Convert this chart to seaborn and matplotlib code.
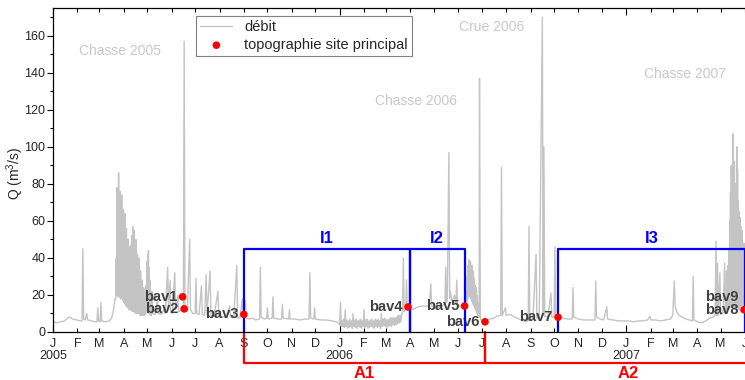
"""
Hydrogramme 2005-2007 avec dates des levés topographiques (bav1..bav9)
"""
import numpy as np
import pandas as pd
import matplotlib.pyplot as plt
import matplotlib.dates as mdates
import matplotlib.transforms as mtransforms
from matplotlib.ticker import MultipleLocator, FuncFormatter
import seaborn as sns

# débit (jour MM-JJ, Q en m3/s)
jours_2005 = ["01-01", "01-06", "01-11", "01-16", "01-19", "01-22", "01-26", "01-31", "02-05", "02-07",
              "02-08", "02-09", "02-11", "02-13", "02-14", "02-19", "02-24", "02-26", "02-27", "02-28",
              "03-02", "03-03", "03-04", "03-09", "03-14", "03-17", "03-19", "03-21",
              "05-07", "05-08", "05-11", "05-14", "05-15", "05-19", "05-22", "05-24", "05-27", "05-28",
              "05-30", "05-31", "06-02", "06-05", "06-06", "06-09", "06-10", "06-13", "06-16", "06-17",
              "06-18", "06-21", "06-24", "06-25", "06-28", "07-01", "07-02", "07-03", "07-06", "07-09",
              "07-10", "07-13", "07-15", "07-16", "07-20", "07-21", "07-25", "07-30", "07-31", "08-04",
              "08-10", "08-14", "08-15", "08-19", "08-23", "08-24", "08-27", "08-30", "08-31", "09-03",
              "09-04", "09-08", "09-12", "09-16", "09-21", "09-22", "09-23", "09-27", "09-30", "10-01",
              "10-02", "10-07", "10-08", "10-09", "10-14", "10-19", "10-20", "10-21", "10-28", "10-29",
              "10-30", "11-05", "11-12", "11-18", "11-23", "11-24", "11-25", "11-29", "11-30", "12-01",
              "12-08", "12-15", "12-22", "12-28"]
q_2005 = [5.5, 5.0, 5.5, 6.0, 7.5, 8.0, 7.0, 6.5, 6.0, 6.0,
          45, 7.0, 6.5, 10, 6.5, 6.0, 5.5, 5.5, 13, 6.0,
          5.5, 16, 6.0, 5.5, 6.0, 8.0, 12, 18,
          22, 10, 9.5, 18, 10, 9.5, 12, 10, 35, 12,
          28, 11, 10, 32, 12, 20, 11, 12, 11, 157,
          12, 11, 50, 12, 10, 10, 29, 10, 9.5, 25,
          9.5, 9, 31, 9.5, 33, 9, 8.5, 22, 8.5, 8,
          8.5, 14, 8, 7.5, 36, 8, 7.5, 18, 7.5, 17,
          7.5, 7, 7.5, 6.5, 7, 35, 8, 7, 7.5, 13,
          7, 7.5, 19, 7.5, 7, 7, 15, 7.5, 7, 12,
          7, 7, 6.5, 7, 7, 32, 7.5, 7, 13, 7,
          6.5, 6.5, 6, 5.5]

jours_2006 = ["03-22", "03-23", "03-24", "03-26", "03-27", "03-28", "03-29", "04-02", "04-06", "04-10",
              "04-15", "04-20", "04-25", "04-27", "04-28", "05-02", "05-07", "05-12", "05-15", "05-16",
              "05-17", "05-18", "05-20", "05-21", "05-22", "05-24", "05-27", "05-29", "05-30", "05-31",
              "06-03", "06-06", "06-09",
              "06-28", "06-29", "07-02", "07-05", "07-08", "07-11", "07-16", "07-20", "07-25", "07-26",
              "07-27", "07-31", "08-01", "08-06", "08-10", "08-15", "08-20", "08-25", "08-29", "08-30",
              "08-31", "09-04", "09-08", "09-09", "09-12", "09-16", "09-17", "09-18", "09-19", "09-23",
              "09-27", "09-28", "10-01", "10-02", "10-03", "10-07", "10-12", "10-18", "10-24", "10-25",
              "10-26", "11-01", "11-08", "11-15", "11-22", "11-23", "11-24", "11-29", "12-03", "12-07",
              "12-08", "12-15", "12-22", "12-28"]
q_2006 = [10, 40, 11, 12, 28, 12, 13, 12, 12.5, 13.5,
          14, 14, 14, 26, 14, 14, 13.5, 14, 16, 35,
          16, 18, 97, 18, 22, 16, 20, 15, 28, 15,
          14, 14, 14,
          137, 7, 6, 5.5, 6.5, 7, 7.5, 8.5, 9, 89,
          9, 13, 9, 9.5, 8.5, 7.5, 6.5, 5.5, 6, 57,
          6.5, 7, 42, 7.5, 7.5, 170, 9, 100, 8.5, 8,
          21, 8, 8, 46, 8.5, 8, 7.5, 7, 7, 24,
          8, 7, 6.5, 6.5, 6.5, 27.6, 8, 7, 6.5, 13.7,
          7, 6.5, 6, 6]

jours_2007 = ["01-04", "01-10", "01-16", "01-22", "01-28", "01-31", "02-01", "02-07", "02-14", "02-20",
              "02-26", "03-01", "03-03", "03-04", "03-06", "03-09", "03-13", "03-18", "03-22", "03-26",
              "03-27", "03-28", "04-02", "04-07", "04-12", "04-17", "04-21", "04-24", "04-25", "04-26",
              "04-27", "04-28", "04-30", "05-01", "05-04", "05-06", "05-07"]
q_2007 = [6, 5.5, 6, 6, 6.5, 8.5, 6.5, 6.5, 6, 6.5,
          7, 9, 27.6, 14, 11, 9, 8, 7, 6.5, 6,
          30, 6.5, 5.5, 5, 6, 7.5, 8, 9, 49, 9,
          37, 9, 32, 9.5, 10, 37, 10]

# épisodes à forte variation : mini / maxi par pas de temps
chasse05_debut = "2005-03-22"
chasse05_min = [18, 20, 20, 19, 20, 19, 18, 18, 18, 17, 16, 16, 15, 14, 14, 13, 13, 12, 12, 12,
                12, 11, 11, 11, 11, 10, 10, 10, 10, 10, 10, 9, 9, 9, 9, 9, 9, 9, 10, 12,
                12, 11, 10, 10, 9, 9]
chasse05_max = [40, 78, 72, 86, 70, 76, 62, 74, 60, 66, 58, 64, 52, 56, 48, 50, 44, 46, 42, 47,
                52, 57, 48, 55, 44, 50, 38, 42, 34, 40, 30, 33, 26, 28, 22, 24, 18, 22, 25, 38,
                42, 44, 35, 28, 22, 16]

hiver06_debut = "2006-01-01"   # pas de 2 jours
hiver06_min = [4, 3, 3, 2.5, 3, 2, 2.5, 3, 2, 3, 2.5, 2, 3, 2.5, 2, 3, 2.5, 3, 2, 2.5,
               3, 2.5, 2, 3, 2.5, 3, 2, 3, 3.5, 3, 2.5, 3, 3.5, 3, 4, 3.5, 4, 4.5, 5, 5.5]
hiver06_max = [16, 6, 7, 12, 6.5, 6, 7, 6, 10, 6.5, 7, 6, 6.5, 7, 6, 12, 6.5, 7, 6, 6.5,
               7, 6, 7, 6.5, 7, 6, 10, 7, 7.5, 7, 6.5, 7, 8, 7.5, 8, 7.5, 8.5, 9, 9, 10]

crue06_debut = "2006-06-10"
crue06_min = [14, 15, 16, 18, 20, 20, 19, 18, 17, 16, 15, 14, 13, 12, 11, 10, 9, 8]
crue06_max = [18, 22, 30, 36, 39, 37, 38, 35, 36, 33, 30, 28, 25, 24, 20, 16, 13, 10]

chasse07_debut = "2007-05-08"
chasse07_min = [10, 11, 12, 12, 13, 13, 14, 14, 15, 14, 14, 13, 13, 13, 13, 12, 12, 12, 12, 11,
                11, 11, 11, 11, 11, 10, 10, 10]
chasse07_max = [33, 20, 36, 45, 60, 75, 90, 70, 107, 85, 92, 80, 72, 100, 88, 71, 65, 62, 57, 50,
                55, 44, 48, 40, 42, 35, 40, 30]

# levés topographiques
bav_noms = ["bav1", "bav2", "bav3", "bav4", "bav5", "bav6", "bav7", "bav8", "bav9"]
bav_dates = ["2005-06-15", "2005-06-17", "2005-09-01", "2006-03-29", "2006-06-09",
             "2006-07-05", "2006-10-06", "2007-05-31", "2007-06-10"]
bav_q = [19, 12.5, 9.5, 13.5, 14, 5.5, 8, 12, 19]

# intervalles I (cadres bleus) et A (accolades rouges)
inter_noms = ["I1", "I2", "I3"]
inter_debut = ["2005-09-01", "2006-03-31", "2006-10-06"]
inter_fin = ["2006-03-31", "2006-06-09", "2007-06-01"]
inter_haut = 45
annee_noms = ["A1", "A2"]
annee_debut = ["2005-09-01", "2006-07-05"]
annee_fin = ["2006-07-05", "2007-07-05"]

# annotations des événements
evt_noms = ["Chasse 2005", "Chasse 2006", "Crue 2006", "Chasse 2007"]
evt_dates = ["2005-03-27", "2006-04-08", "2006-07-13", "2007-03-17"]
evt_q = [152, 125, 165, 139.5]

GRIS = "#c4c4c4"
BLEU = "#0000ff"
ROUGE = "#ff0000"


def serie_annee(annee, jours, q):
    dates = pd.to_datetime([f"{annee}-{j}" for j in jours])
    return pd.DataFrame({"date": dates, "q": q})


def episode(debut, q_min, q_max, pas=1):
    """mini en début de pas, maxi au milieu du pas"""
    t0 = pd.date_range(debut, periods=len(q_min), freq=f"{pas}D")
    demi = pd.Timedelta(hours=12 * pas)
    dates, vals = [], []
    for t, lo, hi in zip(t0, q_min, q_max):
        dates += [t, t + demi]
        vals += [lo, hi]
    return pd.DataFrame({"date": dates, "q": vals})


def main():
    debit = pd.concat([
        serie_annee(2005, jours_2005, q_2005),
        episode(chasse05_debut, chasse05_min, chasse05_max),
        episode(hiver06_debut, hiver06_min, hiver06_max, pas=2),
        serie_annee(2006, jours_2006, q_2006),
        episode(crue06_debut, crue06_min, crue06_max),
        serie_annee(2007, jours_2007, q_2007),
        episode(chasse07_debut, chasse07_min, chasse07_max),
    ]).sort_values("date").reset_index(drop=True)

    topo = pd.DataFrame({"date": pd.to_datetime(bav_dates), "q": bav_q, "nom": bav_noms})

    sns.set_theme(style="ticks")
    plt.rcParams["font.family"] = ["Liberation Sans", "DejaVu Sans"]
    plt.rcParams["mathtext.default"] = "regular"
    plt.rcParams["path.simplify"] = False

    fig = plt.figure(figsize=(7.45, 3.8), dpi=100)
    ax = fig.add_axes([53 / 745, 48 / 380, 703 / 745, 324 / 380])

    sns.lineplot(data=debit, x="date", y="q", ax=ax, color=GRIS, lw=1.0,
                 estimator=None, label="débit")
    sns.scatterplot(data=topo, x="date", y="q", ax=ax, color=ROUGE, s=30,
                    edgecolor="none", label="topographie site principal", zorder=5)

    # étiquettes des levés
    for i, row in topo.iterrows():
        dx = -10 if row["nom"] == "bav9" else -4
        ax.annotate(row["nom"], (row["date"], row["q"]), xytext=(dx, 0),
                    textcoords="offset points", ha="right", va="center",
                    fontsize=10.5, fontweight="bold", color="#404040")

    # cadres bleus I1, I2, I3
    for nom, d0, d1 in zip(inter_noms, inter_debut, inter_fin):
        t0, t1 = pd.Timestamp(d0), pd.Timestamp(d1)
        ax.plot([t0, t0, t1, t1], [0, inter_haut, inter_haut, 0], color=BLEU, lw=1.6, zorder=4)
        ax.annotate(nom, (t0 + (t1 - t0) / 2, inter_haut), xytext=(0, 2),
                    textcoords="offset points", ha="center", va="bottom",
                    fontsize=12, fontweight="bold", color=BLEU)

    # accolades rouges sous l'axe
    trans = mtransforms.blended_transform_factory(ax.transData, ax.transAxes)
    bas = -31 / 324
    for nom, d0, d1 in zip(annee_noms, annee_debut, annee_fin):
        x0, x1 = mdates.date2num(pd.Timestamp(d0)), mdates.date2num(pd.Timestamp(d1))
        ax.plot([x0, x0, x1, x1], [0, bas, bas, 0], color=ROUGE, lw=1.6,
                transform=trans, clip_on=False)
        ax.text((x0 + x1) / 2, -42 / 324, nom, transform=trans, ha="center", va="center",
                fontsize=12, fontweight="bold", color=ROUGE)

    # événements
    for nom, d, q in zip(evt_noms, evt_dates, evt_q):
        ax.text(pd.Timestamp(d), q, nom, ha="center", va="center", fontsize=10, color="#c8c8c8")

    # axes
    ax.set_xlim(pd.Timestamp("2005-01-01"), pd.Timestamp("2007-06-15"))
    ax.set_ylim(0, 175)
    ax.set_xlabel("")
    ax.set_ylabel("Q (m$^3$/s)", fontsize=10)
    ax.yaxis.set_label_coords(-27 / 703, 0.49)

    lettres = "JFMAMJJASOND"
    ax.xaxis.set_major_locator(mdates.YearLocator())
    ax.xaxis.set_minor_locator(mdates.MonthLocator())
    fmt = FuncFormatter(lambda x, pos: lettres[mdates.num2date(x).month - 1])
    ax.xaxis.set_major_formatter(fmt)
    ax.xaxis.set_minor_formatter(fmt)
    ax.tick_params(axis="x", which="both", direction="in", top=True, labelsize=9, pad=4,
                   color="black", width=0.8)
    ax.tick_params(axis="x", which="major", length=5)
    ax.tick_params(axis="x", which="minor", length=3)

    ax.yaxis.set_major_locator(MultipleLocator(20))
    ax.yaxis.set_minor_locator(MultipleLocator(10))
    ax.tick_params(axis="y", which="both", direction="out", labelsize=9, pad=1.5,
                   color="black", width=0.8)
    ax.tick_params(axis="y", which="major", length=4)
    ax.tick_params(axis="y", which="minor", length=2.5)

    for a in [2005, 2006, 2007]:
        ax.text(mdates.date2num(pd.Timestamp(f"{a}-01-01")), -24 / 324, str(a),
                transform=trans, ha="center", va="center", fontsize=9)

    for s in ax.spines.values():
        s.set_color("black")
        s.set_linewidth(0.9)

    leg = ax.legend(loc="upper left", bbox_to_anchor=((196 - 53) / 703, (332 - 16) / 324),
                    frameon=True, fancybox=False, edgecolor="#808080", fontsize=10.5,
                    borderaxespad=0, handlelength=2.2, labelspacing=0.25, borderpad=0.3,
                    framealpha=1)
    leg.get_frame().set_linewidth(0.8)

    fig.savefig("out.png", dpi=100)


if __name__ == "__main__":
    main()
